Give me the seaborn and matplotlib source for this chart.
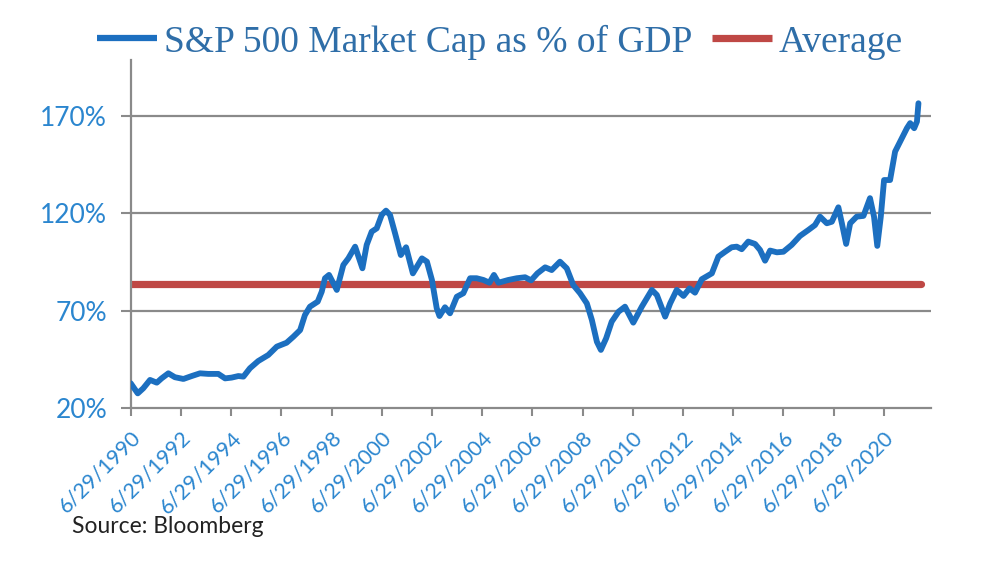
import matplotlib
matplotlib.use("Agg")
import matplotlib.pyplot as plt
import matplotlib.transforms as mtransforms
import seaborn as sns
import pandas as pd

# ---------------------------------------------------------------------------
# Data
# ---------------------------------------------------------------------------

years = [
    1990.50, 1990.78, 1991.00, 1991.27, 1991.54, 1991.73, 1992.00, 1992.26,
    1992.60, 1992.93, 1993.26, 1993.59, 1993.99, 1994.26, 1994.52, 1994.79,
    1994.99, 1995.25, 1995.58, 1995.98, 1996.32, 1996.71, 1996.98, 1997.25,
    1997.44, 1997.64, 1997.95, 1998.11, 1998.24, 1998.40, 1998.71, 1998.97,
    1999.17, 1999.44, 1999.73, 1999.90, 2000.10, 2000.30, 2000.50, 2000.67,
    2000.83, 2001.03, 2001.26, 2001.47, 2001.74, 2002.10, 2002.30, 2002.50,
    2002.69, 2002.80, 2003.02, 2003.22, 2003.49, 2003.75, 2004.02, 2004.28,
    2004.55, 2004.79, 2004.97, 2005.15, 2005.54, 2005.88, 2006.21, 2006.45,
    2006.70, 2007.01, 2007.27, 2007.60, 2007.87, 2008.13, 2008.40, 2008.67,
    2008.87, 2009.07, 2009.23, 2009.44, 2009.66, 2009.93, 2010.19, 2010.52,
    2010.86, 2011.26, 2011.46, 2011.79, 2011.99, 2012.25, 2012.52, 2012.76,
    2012.98, 2013.25, 2013.65, 2013.91, 2014.18, 2014.44, 2014.64, 2014.84,
    2015.10, 2015.37, 2015.57, 2015.77, 2015.97, 2016.24, 2016.50, 2016.83,
    2017.16, 2017.50, 2017.76, 2017.96, 2018.23, 2018.43, 2018.69, 2018.83,
    2019.00, 2019.16, 2019.42, 2019.69, 2019.95, 2020.11, 2020.24, 2020.38,
    2020.51, 2020.75, 2020.95, 2021.15, 2021.42, 2021.55, 2021.71, 2021.82,
    2021.88,
]

mcap_pct = [
    32.7, 27.5, 30.1, 34.4, 33.0, 35.2, 37.8, 35.8,
    34.9, 36.4, 37.8, 37.5, 37.5, 35.2, 35.6, 36.4,
    36.1, 40.4, 44.1, 47.2, 51.5, 53.5, 56.6, 60.0,
    67.7, 72.0, 74.6, 79.7, 86.6, 88.3, 80.6, 93.4,
    96.8, 102.8, 91.7, 103.7, 110.5, 112.2, 119.1, 121.3,
    119.1, 109.7, 98.5, 102.5, 89.1, 96.8, 95.1, 85.7,
    71.2, 67.2, 71.7, 68.6, 77.1, 78.9, 86.6, 86.6,
    85.7, 84.3, 88.3, 84.3, 85.7, 86.6, 87.1, 85.5,
    89.1, 92.2, 90.8, 95.1, 91.7, 83.1, 78.9, 73.7,
    65.2, 54.0, 49.8, 55.8, 64.3, 69.4, 72.0, 63.8,
    72.0, 80.6, 78.0, 66.9, 73.7, 80.6, 77.5, 81.4,
    79.2, 86.1, 89.1, 97.7, 100.2, 102.5, 102.8, 101.5,
    105.4, 104.2, 101.1, 95.6, 100.8, 99.9, 100.2, 103.7,
    108.3, 111.4, 113.9, 118.2, 114.8, 115.6, 123.0, 114.8,
    104.2, 114.8, 118.2, 118.6, 127.7, 118.2, 103.2, 118.2,
    137.0, 137.0, 151.6, 156.7, 163.6, 166.2, 163.6, 167.0,
    176.4,
]

average_pct = 83.7
average_span = [1990.5, 2021.99]

tick_years = list(range(1990, 2021, 2))
tick_labels = [f"6/29/{y}" for y in tick_years]
y_ticks = [20, 70, 120, 170]

# ---------------------------------------------------------------------------
# Styling
# ---------------------------------------------------------------------------

sns.set_theme(style="white")
plt.rcParams["font.family"] = ["Lato", "DejaVu Sans"]

BLUE = "#1c6fc0"
RED = "#bf4845"
GRAY = "#8a8a8a"
TICK_BLUE = "#2b86cf"
LEGEND_BLUE = "#2f6ea8"

df = pd.DataFrame({"year": years, "pct": mcap_pct})
avg_df = pd.DataFrame({"year": average_span, "pct": [average_pct] * 2})

fig = plt.figure(figsize=(10, 5.64), dpi=100)
ax = fig.add_axes([0.1307, 0.2766, 0.8003, 0.617])

for y in y_ticks[1:]:
    ax.axhline(y, color=GRAY, lw=1.6, zorder=1)

sns.lineplot(data=avg_df, x="year", y="pct", ax=ax, color=RED, lw=5.2,
             solid_capstyle="round", label="Average", zorder=2)
sns.lineplot(data=df, x="year", y="pct", ax=ax, color=BLUE, lw=4.2,
             solid_joinstyle="round", solid_capstyle="round",
             label="S&P 500 Market Cap as % of GDP", zorder=3)

ax.set_xlim(1990.5, 2022.38)
ax.set_ylim(20, 198.6)
ax.set_xlabel("")
ax.set_ylabel("")

ax.set_xticks([y + 0.5 for y in tick_years])
ax.set_xticklabels(tick_labels, rotation=45, ha="right",
                   rotation_mode="anchor", fontsize=15.5, color=TICK_BLUE)
# nudge the slanted date labels a little to the right, like the original
shift = mtransforms.ScaledTranslation(3 / 100, 0, fig.dpi_scale_trans)
for lbl in ax.get_xticklabels():
    lbl.set_transform(lbl.get_transform() + shift)

ax.set_yticks(y_ticks)
ax.set_yticklabels([f"{v}%" for v in y_ticks], fontsize=19, color=TICK_BLUE)

ax.tick_params(axis="x", direction="out", length=6, width=1.5, color=GRAY,
               bottom=True, pad=8)
ax.tick_params(axis="y", direction="out", length=7, width=1.5, color=GRAY,
               left=True, pad=10)

for side in ["top", "right"]:
    ax.spines[side].set_visible(False)
for side in ["left", "bottom"]:
    ax.spines[side].set_color(GRAY)
    ax.spines[side].set_linewidth(1.6)

# legend: blue series first, then the average
handles, labels = ax.get_legend_handles_labels()
ax.get_legend().remove()
order = [1, 0]
leg = fig.legend([handles[i] for i in order], [labels[i] for i in order],
                 loc="center", bbox_to_anchor=(0.5, 0.9255), ncol=2,
                 frameon=False, handlelength=1.6, handletextpad=0.2,
                 columnspacing=0.5, borderaxespad=0,
                 prop={"family": "Liberation Serif", "size": 27})
for text in leg.get_texts():
    text.set_color(LEGEND_BLUE)
for line in leg.get_lines():
    line.set_solid_capstyle("butt")
leg.get_lines()[0].set_linewidth(4.5)
leg.get_lines()[1].set_linewidth(5.2)

fig.text(0.072, 0.066, "Source: Bloomberg", fontsize=16.5, color="#222222",
         va="center", ha="left")

fig.savefig("out.png", dpi=100)
